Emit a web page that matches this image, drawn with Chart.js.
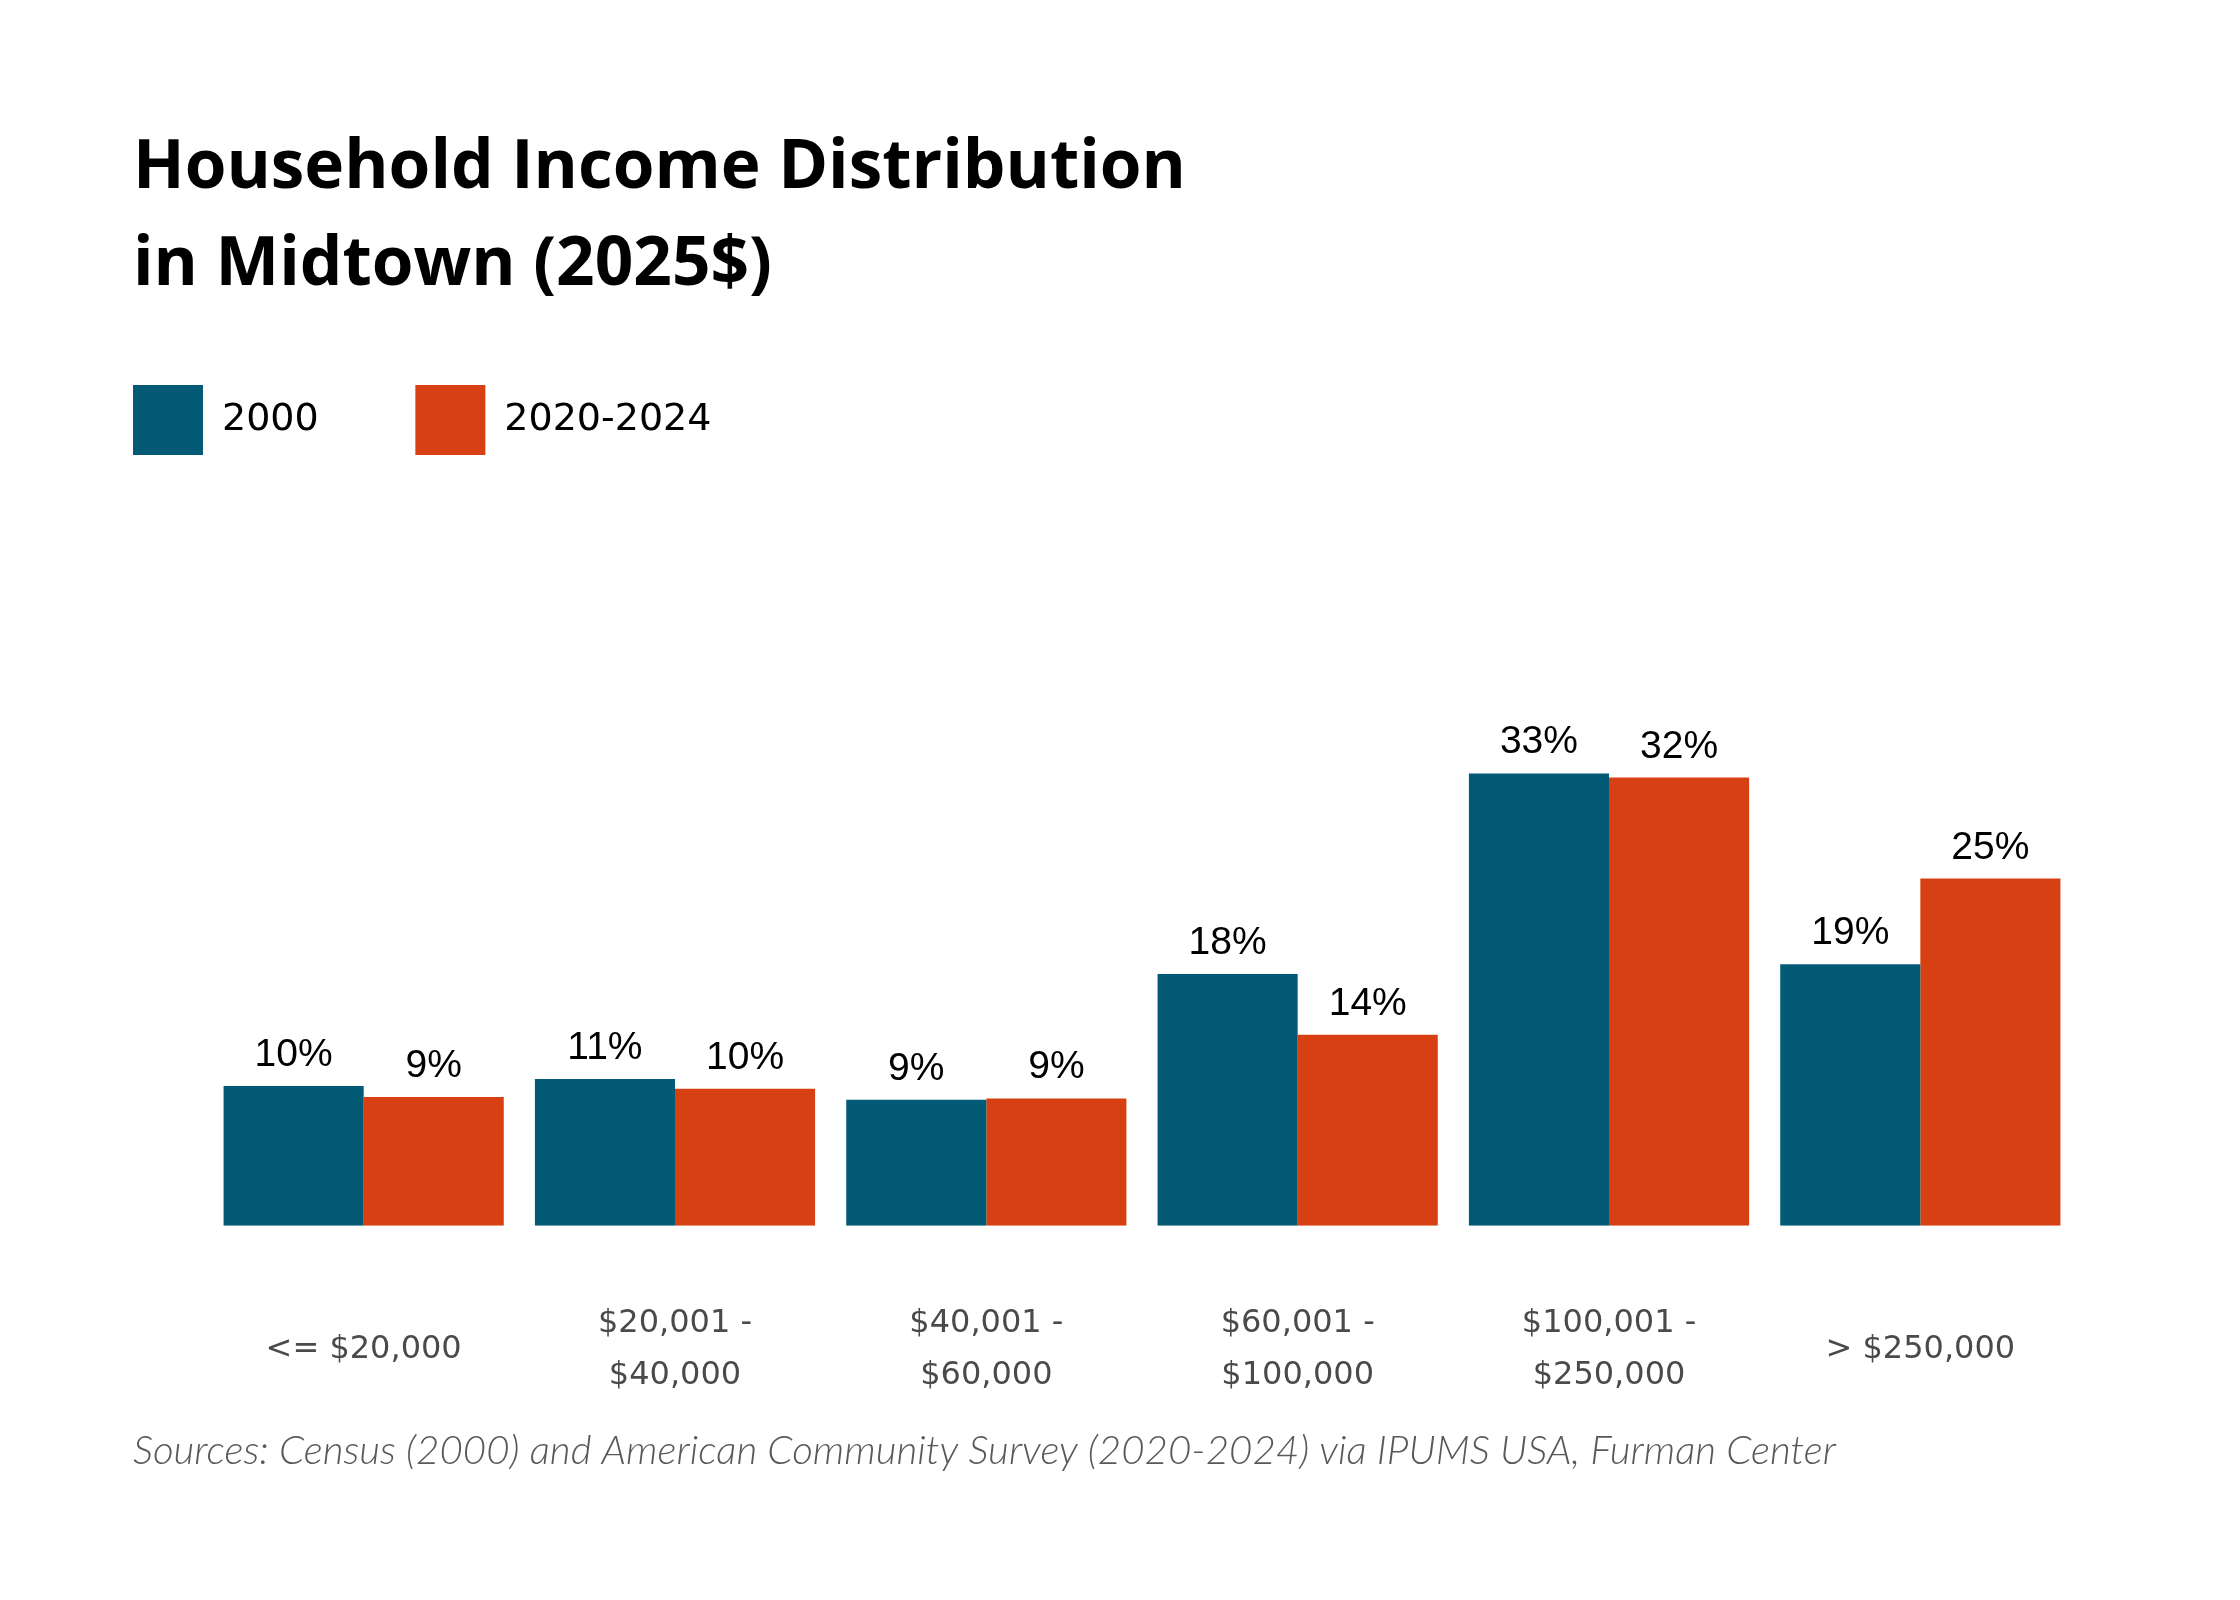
<!DOCTYPE html>
<html>
<head>
<meta charset="utf-8">
<title>Household Income Distribution in Midtown</title>
<script src="https://cdn.jsdelivr.net/npm/chart.js@4.4.1/dist/chart.umd.min.js"></script>
<style>
  html, body { margin: 0; padding: 0; background: #fff; }
  #wrap { width: 2240px; height: 1600px; position: relative; }
</style>
</head>
<body>
<div id="wrap"><canvas id="incomeChart"></canvas></div>
<script>
// income brackets (x axis)
const brackets = [
    '<= $20,000',
    ['$20,001 -', '$40,000'],
    ['$40,001 -', '$60,000'],
    ['$60,001 -', '$100,000'],
    ['$100,001 -', '$250,000'],
    '> $250,000'
];

// share of households, percent
const share2000 = [10.1, 10.6, 9.1, 18.2, 32.7, 18.9];
const share2020 = [9.3, 9.9, 9.2, 13.8, 32.4, 25.1];

const seriesNames = ['2000', '2020-2024'];
const seriesColors = ['#025A75', '#D74013'];

const titleLines = ['Household Income Distribution', 'in Midtown (2025$)'];
const sourceNote = 'Sources: Census (2000) and American Community Survey (2020-2024) via IPUMS USA, Furman Center';

// spaces after the legend text push the second legend item over
const legendGap = '        ';

const valueLabels = {
    id: 'valueLabels',
    afterDatasetsDraw(chart) {
        const ctx = chart.ctx;
        ctx.save();
        ctx.font = '39px "Liberation Sans", Arial, sans-serif';
        ctx.fillStyle = '#000';
        ctx.textAlign = 'center';
        ctx.textBaseline = 'alphabetic';
        chart.data.datasets.forEach((ds, i) => {
            chart.getDatasetMeta(i).data.forEach((bar, j) => {
                ctx.fillText(Math.round(ds.data[j]) + '%', bar.x, bar.y - 20);
            });
        });
        ctx.restore();
    }
};

function drawChart() {
    const ctx = document.getElementById('incomeChart').getContext('2d');
    new Chart(ctx, {
        type: 'bar',
        data: {
            labels: brackets,
            datasets: [{
                label: seriesNames[0],
                data: share2000,
                backgroundColor: seriesColors[0],
                borderWidth: 0
            }, {
                label: seriesNames[1],
                data: share2020,
                backgroundColor: seriesColors[1],
                borderWidth: 0
            }]
        },
        options: {
            responsive: true,
            maintainAspectRatio: false,
            animation: false,
            layout: { padding: { left: 133, right: 164, top: 0, bottom: 0 } },
            datasets: {
                bar: { categoryPercentage: 0.9, barPercentage: 1.0 }
            },
            scales: {
                x: {
                    grid: { display: false, drawTicks: false },
                    border: { display: false },
                    ticks: {
                        color: '#4a4a4a',
                        font: { family: '"DejaVu Sans", sans-serif', size: 32, lineHeight: '52px' },
                        padding: 98,
                        crossAlign: 'center',
                        maxRotation: 0,
                        autoSkip: false
                    },
                    afterFit: (scale) => { scale.height = 203; }
                },
                y: {
                    min: 0,
                    max: 55,
                    grid: { display: false, drawTicks: false },
                    border: { display: false },
                    ticks: { display: false },
                    afterFit: (scale) => { scale.width = 75; }
                }
            },
            plugins: {
                title: {
                    display: true,
                    text: titleLines,
                    align: 'start',
                    color: '#000',
                    font: { family: '"Open Sans", sans-serif', weight: 'bold', size: 67.5, lineHeight: '97px' },
                    padding: { top: 120, bottom: 71 }
                },
                legend: {
                    display: true,
                    position: 'top',
                    align: 'start',
                    labels: {
                        boxWidth: 70,
                        boxHeight: 70,
                        padding: 0,
                        color: '#000',
                        font: { family: '"DejaVu Sans", sans-serif', size: 38 },
                        generateLabels: (chart) => {
                            const items = Chart.defaults.plugins.legend.labels.generateLabels(chart);
                            items.forEach((it) => { it.text = it.text + legendGap; it.lineWidth = 0; });
                            return items;
                        }
                    }
                },
                subtitle: {
                    display: true,
                    position: 'bottom',
                    align: 'start',
                    text: sourceNote,
                    color: '#595959',
                    font: { family: 'Lato, sans-serif', style: 'italic', weight: 300, size: 40.3, lineHeight: 1.1 },
                    padding: { top: 0, bottom: 127 }
                },
                tooltip: { enabled: false }
            }
        },
        plugins: [valueLabels]
    });
}

Promise.all([
    document.fonts.load('bold 68px "Open Sans"'),
    document.fonts.load('32px "DejaVu Sans"'),
    document.fonts.load('italic 300 40px Lato'),
    document.fonts.load('39px "Liberation Sans"')
]).then(drawChart, drawChart);
</script>
</body>
</html>
